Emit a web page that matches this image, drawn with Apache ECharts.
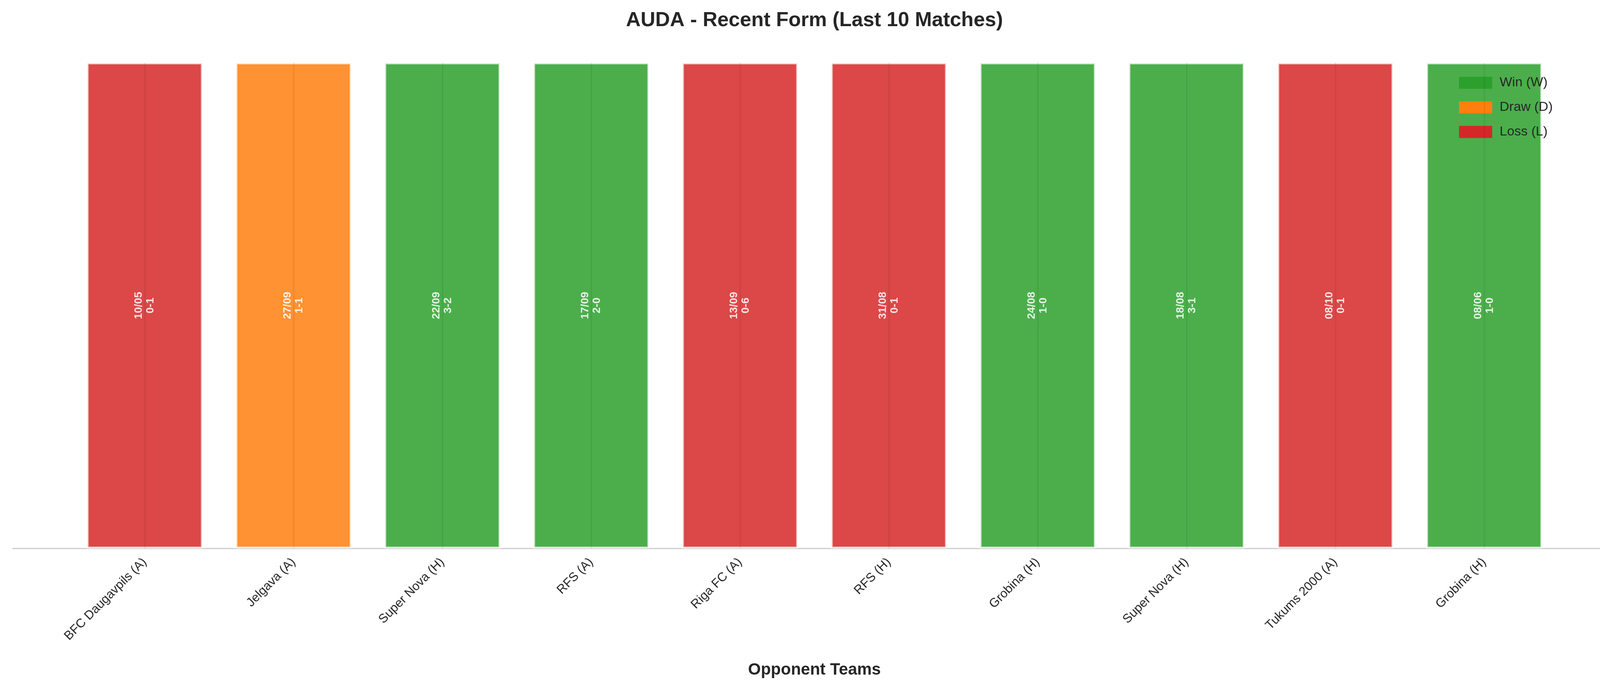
<!DOCTYPE html>
<html><head><meta charset="utf-8">
<script src="https://cdn.jsdelivr.net/npm/echarts@6/dist/echarts.min.js"></script>
<style>html,body{margin:0;padding:0;background:#fff}#c{width:4170px;height:1770px}</style>
</head><body><div id="c"></div>
<script>
const teams = ['BFC Daugavpils (A)','Jelgava (A)','Super Nova (H)','RFS (A)','Riga FC (A)','RFS (H)','Grobina (H)','Super Nova (H)','Tukums 2000 (A)','Grobina (H)'];
const dates = ['10/05','27/09','22/09','17/09','13/09','31/08','24/08','18/08','08/10','08/06'];
const scores = ['0-1','1-1','3-2','2-0','0-6','0-1','1-0','3-1','0-1','1-0'];
const results = ['L','D','W','W','L','L','W','W','L','W'];
const outcomes = [
  {code:'W', name:'Win (W)', color:'#2ca02c'},
  {code:'D', name:'Draw (D)', color:'#ff7f0e'},
  {code:'L', name:'Loss (L)', color:'#d62728'}
];
const chart = echarts.init(document.getElementById('c'));
const series = outcomes.map((o, k) => ({
  name: o.name, type: 'bar', stack: 'all', barCategoryGap: '22%',
  itemStyle: {color: o.color, opacity: 0.85, borderColor: 'rgba(255,255,255,0.75)', borderWidth: 5},
  label: {show: true, position: 'inside', rotate: 90, color: '#fff', fontWeight: 'bold',
    fontSize: 28, lineHeight: 30, fontFamily: 'Liberation Sans, Arial',
    formatter: p => dates[p.dataIndex] + '\n' + scores[p.dataIndex]},
  data: results.map(r => r === o.code ? 1 : '-'),
  markLine: k === 0 ? {symbol: 'none', silent: true, label: {show: false},
    lineStyle: {color: 'rgba(0,0,0,0.06)', width: 4, type: 'solid'},
    data: teams.map((t, i) => [{coord: [i, 0]}, {coord: [i, 1]}])} : undefined
}));
chart.setOption({
  animation: false,
  title: {text: 'AUDA - Recent Form (Last 10 Matches)', left: 'center', top: 22,
    textStyle: {fontSize: 52, fontWeight: 'bold', color: '#262626', fontFamily: 'Liberation Sans, Arial'}},
  legend: {right: 190, top: 190, orient: 'vertical', itemWidth: 85, itemHeight: 31, itemGap: 29,
    icon: 'rect', textStyle: {fontSize: 34, color: '#262626', fontFamily: 'Liberation Sans, Arial', padding: [0,0,0,14]},
    data: outcomes.map(o => ({name: o.name, itemStyle: {color: o.color, opacity: 1, borderWidth: 0}}))},
  grid: {left: 180, right: 180, top: 160, bottom: 365},
  xAxis: {type: 'category', data: teams, name: 'Opponent Teams', nameLocation: 'middle', nameGap: 290,
    nameTextStyle: {fontSize: 42, fontWeight: 'bold', color: '#262626', fontFamily: 'Liberation Sans, Arial'},
    axisLine: {show: false}, axisTick: {show: false},
    axisLabel: {rotate: 45, fontSize: 32, color: '#262626', margin: 30, fontFamily: 'Liberation Sans, Arial', interval: 0}},
  yAxis: {type: 'value', min: 0, max: 1, show: false},
  graphic: [{type: 'line', shape: {x1: 32, y1: 1405, x2: 4140, y2: 1405}, style: {stroke: '#cccccc', lineWidth: 3}, z: 0}],
  series
});
</script></body></html>
